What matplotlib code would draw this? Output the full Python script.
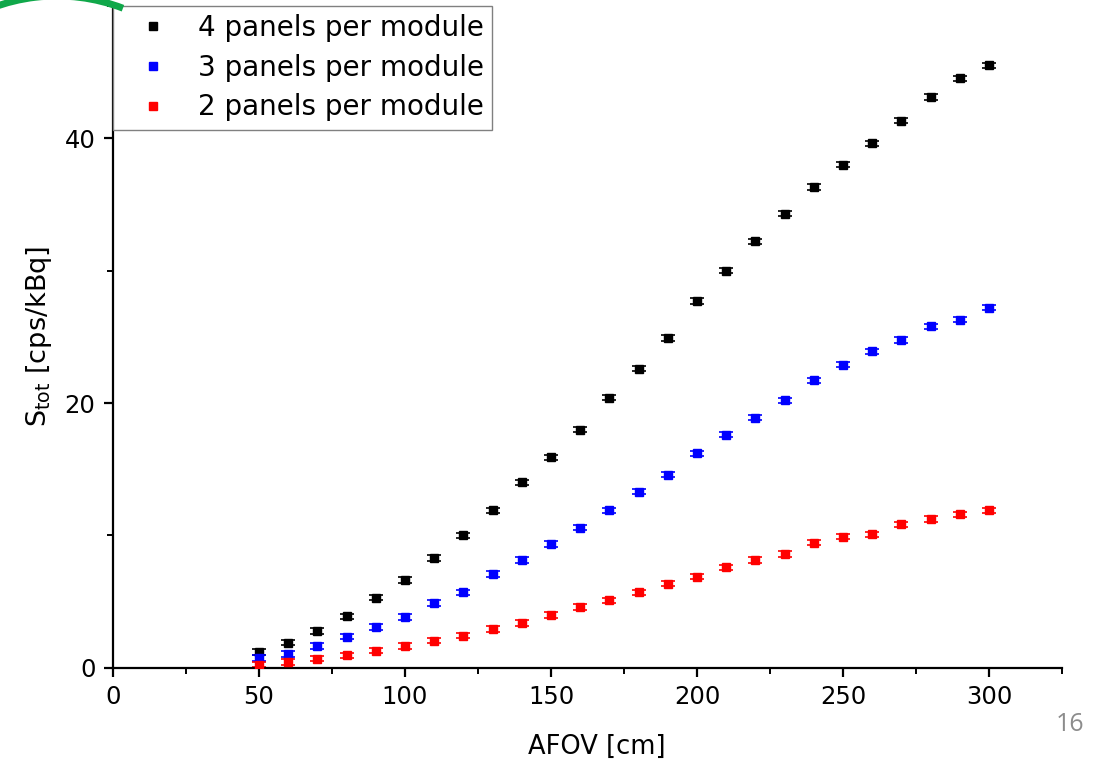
import matplotlib
matplotlib.use("Agg")
import matplotlib.pyplot as plt
from matplotlib.patches import Arc
from matplotlib.transforms import IdentityTransform
from matplotlib.ticker import MultipleLocator

# --- data ---
afov = [50, 60, 70, 80, 90, 100, 110, 120, 130, 140, 150, 160, 170,
        180, 190, 200, 210, 220, 230, 240, 250, 260, 270, 280, 290, 300]

s_4panels = [1.2, 1.9, 2.8, 3.9, 5.3, 6.65, 8.3, 10.0, 11.9, 14.0, 15.9, 18.0, 20.4,
             22.6, 24.9, 27.7, 30.0, 32.2, 34.3, 36.3, 38.0, 39.6, 41.3, 43.1, 44.5, 45.5]
s_3panels = [0.75, 1.05, 1.65, 2.35, 3.1, 3.85, 4.9, 5.7, 7.1, 8.15, 9.35, 10.6, 11.9,
             13.3, 14.6, 16.2, 17.6, 18.9, 20.2, 21.7, 22.9, 23.9, 24.75, 25.8, 26.3, 27.2]
s_2panels = [0.25, 0.45, 0.7, 0.95, 1.3, 1.65, 2.05, 2.45, 2.95, 3.4, 4.0, 4.6, 5.1,
             5.7, 6.35, 6.9, 7.6, 8.15, 8.6, 9.45, 9.9, 10.1, 10.85, 11.25, 11.6, 11.9]
s_err = 0.2

series = [
    ("4 panels per module", s_4panels, "black"),
    ("3 panels per module", s_3panels, "#0000ff"),
    ("2 panels per module", s_2panels, "#ff0000"),
]

plt.rcParams["font.family"] = ["DejaVu Sans"]
plt.rcParams["mathtext.default"] = "regular"

fig = plt.figure(figsize=(11.01, 7.64), dpi=100)
ax = fig.add_axes([0.1026, 0.1257, 0.862, 0.867])

for label, vals, col in series:
    ax.errorbar(afov, vals, yerr=s_err, fmt="none", ecolor=col, elinewidth=1.0,
                capsize=4.8, capthick=1.2, zorder=2)
    ax.plot(afov, vals, "s", color=col, markersize=5.8, label=label, zorder=3)

ax.set_xlim(0, 325)
ax.set_ylim(0, 50)
ax.xaxis.set_major_locator(MultipleLocator(50))
ax.xaxis.set_minor_locator(MultipleLocator(25))
ax.yaxis.set_major_locator(MultipleLocator(20))
ax.yaxis.set_minor_locator(MultipleLocator(10))

for side in ("top", "right"):
    ax.spines[side].set_visible(False)
for side in ("left", "bottom"):
    ax.spines[side].set_linewidth(1.6)

ax.tick_params(which="major", direction="out", length=6.5, width=1.6, labelsize=17.5, pad=6)
ax.tick_params(which="minor", direction="out", length=4, width=1.4)

ax.set_xlabel("AFOV [cm]", fontsize=18.5)
ax.xaxis.set_label_coords(0.51, -0.1)
ax.set_ylabel(r"S$_{tot}$ [cps/kBq]", fontsize=19.5, labelpad=8)

leg = ax.legend(loc="upper left", borderaxespad=0, fontsize=20, fancybox=False,
                framealpha=1, edgecolor="#808080", handlelength=2.27, handletextpad=0.49,
                borderpad=0.3, labelspacing=0.42, markerscale=0.9)
leg.get_frame().set_linewidth(1.0)

# slide decoration: green swoosh top-left and page number
arc = Arc((57, 584), 368, 368, theta1=69, theta2=180, color="#10a84a", lw=5,
          transform=IdentityTransform())
fig.add_artist(arc)
fig.text(0.985, 0.035, "16", color="#8c8c8c", fontsize=18, ha="right", va="bottom",
         family=["Open Sans", "DejaVu Sans"])

fig.savefig("out.png", dpi=100)
